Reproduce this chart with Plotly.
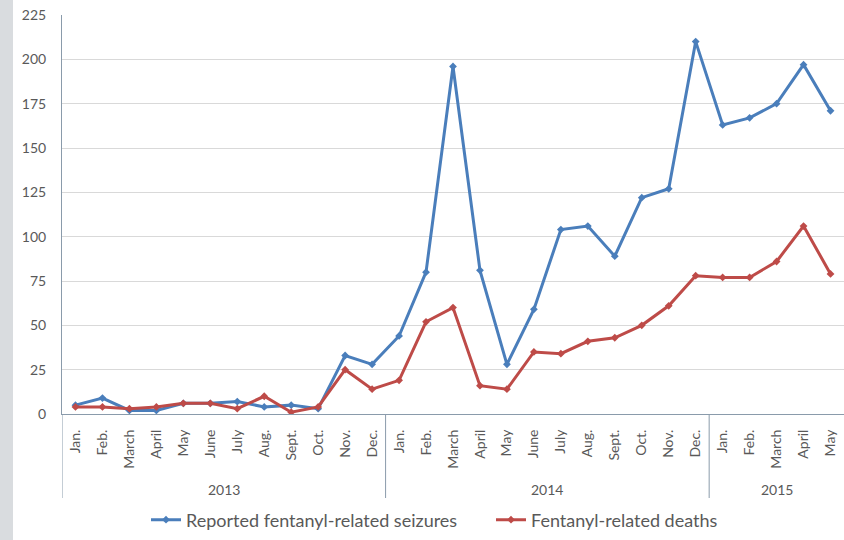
import plotly.graph_objects as go

# Monthly categories, grouped by year
years = ["2013", "2014", "2015"]
months_per_year = [12, 12, 5]
month_names = ["Jan.", "Feb.", "March", "April", "May", "June",
               "July", "Aug.", "Sept.", "Oct.", "Nov.", "Dec."]

month_labels = []
for n in months_per_year:
    month_labels += month_names[:n]
x_pos = list(range(len(month_labels)))

seizures = [5, 9, 2, 2, 6, 6, 7, 4, 5, 3, 33, 28,
            44, 80, 196, 81, 28, 59, 104, 106, 89, 122, 127, 210,
            163, 167, 175, 197, 171]
deaths = [4, 4, 3, 4, 6, 6, 3, 10, 1, 4, 25, 14,
          19, 52, 60, 16, 14, 35, 34, 41, 43, 50, 61, 78,
          77, 77, 86, 106, 79]

y_ticks = [0, 25, 50, 75, 100, 125, 150, 175, 200, 225]

BLUE = "#4a7ebb"
RED = "#be4b48"
AXIS = "#8a9bab"
TEXT = "#595959"
FONT = "Lato"

fig = go.Figure()
fig.add_trace(go.Scatter(
    x=x_pos, y=seizures, mode="lines+markers",
    name="Reported fentanyl-related seizures",
    line=dict(color=BLUE, width=3),
    marker=dict(symbol="diamond", size=6, color=BLUE),
))
fig.add_trace(go.Scatter(
    x=x_pos, y=deaths, mode="lines+markers",
    name="Fentanyl-related deaths",
    line=dict(color=RED, width=3),
    marker=dict(symbol="diamond", size=6, color=RED),
))

plot_h = 540 - 15 - 126  # plot area height in px

# Year group labels and dividers under the month labels
shapes = []
start = 0
annotations = []
for yr, n in zip(years, months_per_year):
    center = start + (n - 1) / 2
    annotations.append(dict(
        x=center, y=0, xref="x", yref="paper", yshift=-75,
        text=yr, showarrow=False, yanchor="middle",
        font=dict(family=FONT, size=14, color=TEXT),
    ))
    shapes.append(dict(
        type="line", xref="x", yref="paper",
        x0=start - 0.5, x1=start - 0.5, y0=0, y1=-84 / plot_h,
        line=dict(color=AXIS, width=1),
    ))
    start += n

# Light grey strip along the left edge of the page
shapes.append(dict(
    type="rect", xref="paper", yref="paper",
    x0=-62 / 782, x1=-49 / 782, y0=-126 / plot_h, y1=1 + 15 / plot_h,
    fillcolor="#d9dcdf", line=dict(width=0), layer="below",
))

fig.update_layout(
    width=844, height=540,
    margin=dict(l=62, r=0, t=15, b=126),
    paper_bgcolor="white", plot_bgcolor="white",
    font=dict(family=FONT, color=TEXT),
    showlegend=True,
    legend=dict(
        orientation="h", x=(146 - 62) / 782, xanchor="left",
        y=-106 / plot_h, yanchor="middle",
        font=dict(family=FONT, size=18, color=TEXT),
        itemwidth=30, entrywidth=300, entrywidthmode="pixels",
    ),
    xaxis=dict(
        range=[-0.5, len(x_pos) - 0.5],
        tickmode="array", tickvals=x_pos, ticktext=month_labels,
        tickangle=-90, tickfont=dict(family=FONT, size=14, color=TEXT),
        showgrid=False, zeroline=False,
        showline=True, linecolor=AXIS, linewidth=1,
        ticks="", ticklabelstandoff=9,
    ),
    yaxis=dict(
        range=[0, 225], tickmode="array", tickvals=y_ticks,
        tickfont=dict(family=FONT, size=14, color=TEXT),
        showgrid=True, gridcolor="#d9d9d9", gridwidth=1,
        zeroline=False, showline=True, linecolor=AXIS, linewidth=1,
        ticks="", ticklabelstandoff=12,
    ),
    shapes=shapes,
    annotations=annotations,
)

fig.write_html("out.html")
